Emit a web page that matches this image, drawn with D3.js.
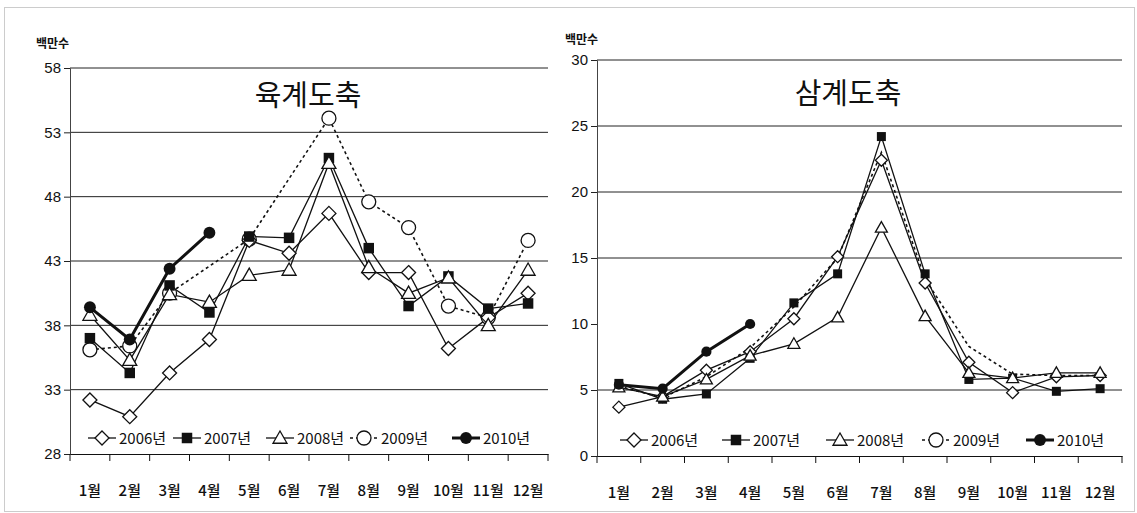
<!DOCTYPE html>
<html>
<head>
<meta charset="utf-8">
<script src="https://cdn.jsdelivr.net/npm/d3@7"></script>
<style>
  body { margin: 0; background: #fff; }
  text { fill: #111; }
</style>
</head>
<body>
<div id="chart"></div>
<script>
var svgWidth = 1137;
var svgHeight = 513;

// categories and series
var months = ["1월", "2월", "3월", "4월", "5월", "6월", "7월", "8월", "9월", "10월", "11월", "12월"];
var years = ["2006년", "2007년", "2008년", "2009년", "2010년"];

// 육계도축 (millions)
var broiler2006 = [32.2, 30.9, 34.3, 36.9, 44.6, 43.6, 46.7, 42.1, 42.1, 36.2, 38.6, 40.5];
var broiler2007 = [37.0, 34.3, 41.1, 39.0, 44.9, 44.8, 51.0, 44.0, 39.5, 41.8, 39.3, 39.7];
var broiler2008 = [38.8, 35.3, 40.4, 39.8, 41.9, 42.3, 50.6, 42.5, 40.5, 41.7, 38.0, 42.3];
var broiler2009 = [36.1, 36.4, 40.5, null, 44.7, null, 54.1, 47.6, 45.6, 39.5, 38.6, 44.6];
var broiler2010 = [39.4, 36.9, 42.4, 45.2, null, null, null, null, null, null, null, null];

// 삼계도축 (millions)
var samgye2006 = [3.7, 4.5, 6.5, 7.9, 10.4, 15.1, 22.4, 13.1, 7.1, 4.8, 6.0, 6.1];
var samgye2007 = [5.5, 4.3, 4.7, 7.4, 11.6, 13.8, 24.2, 13.8, 5.8, 5.9, 4.9, 5.1];
var samgye2008 = [5.2, 4.5, 5.8, 7.6, 8.5, 10.5, 17.3, 10.6, 6.3, 5.9, 6.3, 6.3];
var samgye2009 = [5.3, 4.4, 6.0, 8.2, 11.3, 15.0, 23.0, 13.4, 8.3, 6.2, 6.1, 6.1];
var samgye2010 = [5.4, 5.1, 7.9, 10.0, null, null, null, null, null, null, null, null];

// axis ticks
var broilerTicks = [28, 33, 38, 43, 48, 53, 58];
var broilerGrid = [33, 38, 43, 48, 53, 58];
var samgyeTicks = [0, 5, 10, 15, 20, 25, 30];
var samgyeGrid = [5, 15, 20, 25, 30];

var svg = d3.select("#chart")
    .append("svg")
    .attr("width", svgWidth)
    .attr("height", svgHeight);

// scanned page frame
svg.append("rect")
    .attr("x", 4.5).attr("y", 7.5)
    .attr("width", 1130).attr("height", 504)
    .attr("fill", "none")
    .attr("stroke", "#999")
    .attr("stroke-dasharray", "1,1");

var styles = [
    { shape: "diamond", width: 1.3, dash: null },
    { shape: "square", width: 1.3, dash: null },
    { shape: "triangle", width: 1.3, dash: null },
    { shape: "circle", width: 1.6, dash: "3,3" },
    { shape: "dot", width: 3, dash: null }
];

function drawMarker(g, shape, x, y, s) {
    if (shape === "diamond") {
        g.append("path")
            .attr("d", `M${x},${y - s}L${x + s},${y}L${x},${y + s}L${x - s},${y}Z`)
            .attr("fill", "#fff").attr("stroke", "#111").attr("stroke-width", 1.3);
    } else if (shape === "square") {
        var h = s * 0.75;
        g.append("rect")
            .attr("x", x - h).attr("y", y - h).attr("width", h * 2).attr("height", h * 2)
            .attr("fill", "#111");
    } else if (shape === "triangle") {
        g.append("path")
            .attr("d", `M${x},${y - s}L${x + s},${y + s * 0.75}L${x - s},${y + s * 0.75}Z`)
            .attr("fill", "#fff").attr("stroke", "#111").attr("stroke-width", 1.3);
    } else if (shape === "circle") {
        g.append("circle").attr("cx", x).attr("cy", y).attr("r", s)
            .attr("fill", "#fff").attr("stroke", "#111").attr("stroke-width", 1.3);
    } else {
        g.append("circle").attr("cx", x).attr("cy", y).attr("r", s * 0.85)
            .attr("fill", "#111");
    }
}

function drawChart(cfg) {
    var g = svg.append("g");

    var x = d3.scaleBand()
        .domain(months)
        .range([cfg.left, cfg.right]);

    var y = d3.scaleLinear()
        .domain(cfg.domain)
        .range([cfg.bottom, cfg.top]);

    var cx = d => x(d) + x.bandwidth() / 2;

    // gridlines
    g.selectAll(null)
        .data(cfg.grid)
        .enter()
        .append("line")
        .attr("x1", cfg.left).attr("x2", cfg.right)
        .attr("y1", d => y(d)).attr("y2", d => y(d))
        .attr("stroke", "#222")
        .attr("stroke-width", 1);

    // y axis
    var leftAxis = d3.axisLeft(y)
        .tickValues(cfg.ticks)
        .tickSize(6)
        .tickPadding(3);
    var yAxis = g.append("g")
        .attr("transform", `translate(${cfg.left}, 0)`)
        .call(leftAxis);
    yAxis.select(".domain").attr("stroke", "#444");
    yAxis.selectAll(".tick line").attr("stroke", "#222");
    yAxis.selectAll("text")
        .attr("font-family", "'Liberation Sans', Arial, sans-serif")
        .attr("font-size", "15px")
        .attr("fill", "#111");

    // x axis: labels centred, ticks on category boundaries
    var bottomAxis = d3.axisBottom(x).tickSize(0).tickPadding(31);
    var xAxis = g.append("g")
        .attr("transform", `translate(0, ${cfg.bottom})`)
        .call(bottomAxis);
    xAxis.select(".domain").attr("stroke", "#111").attr("stroke-width", 1.2);
    xAxis.selectAll("text")
        .attr("font-family", "'Noto Sans CJK KR', sans-serif")
        .attr("font-size", "15px")
        .attr("font-weight", "500")
        .attr("fill", "#111");

    g.selectAll(null)
        .data(months.map(m => x(m)).concat([cfg.right]))
        .enter()
        .append("line")
        .attr("x1", d => d).attr("x2", d => d)
        .attr("y1", cfg.bottom).attr("y2", cfg.bottom + 7)
        .attr("stroke", "#111");

    // unit label and title
    g.append("text")
        .attr("x", cfg.unitX).attr("y", cfg.unitY)
        .attr("font-family", "'Noto Sans CJK KR', sans-serif")
        .attr("font-size", "12px")
        .attr("font-weight", "bold")
        .text("백만수");

    g.append("text")
        .attr("x", cfg.titleX).attr("y", cfg.titleY)
        .attr("text-anchor", "middle")
        .attr("font-family", "'Noto Sans CJK KR', sans-serif")
        .attr("font-size", "29px")
        .text(cfg.title);

    // series lines
    var line = d3.line()
        .x(d => cx(d.m))
        .y(d => y(d.v));

    cfg.order.forEach(function (i) {
        var pts = months.map((m, j) => ({ m: m, v: cfg.series[i][j] }))
            .filter(d => d.v !== null);
        g.append("path")
            .datum(pts)
            .attr("d", line)
            .attr("fill", "none")
            .attr("stroke", "#111")
            .attr("stroke-width", styles[i].width)
            .attr("stroke-dasharray", styles[i].dash);
    });

    cfg.order.forEach(function (i) {
        if (cfg.hideMarkers.indexOf(i) >= 0) return;
        cfg.series[i].forEach(function (v, j) {
            if (v === null) return;
            drawMarker(g, styles[i].shape, cx(months[j]), y(v), cfg.markerSize);
        });
    });

    // legend
    var lg = g.append("g").attr("transform", `translate(0, ${cfg.legendY})`);
    years.forEach(function (yr, i) {
        var x0 = cfg.legendX[i];
        lg.append("line")
            .attr("x1", x0).attr("x2", x0 + 28)
            .attr("y1", 0).attr("y2", 0)
            .attr("stroke", "#111")
            .attr("stroke-width", styles[i].width)
            .attr("stroke-dasharray", styles[i].dash);
        drawMarker(lg, styles[i].shape, x0 + 14, 0, 7);
        lg.append("text")
            .attr("x", x0 + 31).attr("y", 6)
            .attr("font-family", "'Noto Sans CJK KR', sans-serif")
            .attr("font-size", "15px")
            .text(yr);
    });
}

drawChart({
    title: "육계도축",
    left: 70, right: 548, top: 68, bottom: 454,
    domain: [28, 58],
    ticks: broilerTicks, grid: broilerGrid,
    series: [broiler2006, broiler2007, broiler2008, broiler2009, broiler2010],
    order: [3, 0, 1, 2, 4],
    hideMarkers: [],
    markerSize: 7,
    unitX: 36, unitY: 48,
    titleX: 308, titleY: 106,
    legendY: 438,
    legendX: [88, 173, 266, 350, 452]
});

drawChart({
    title: "삼계도축",
    left: 597, right: 1122, top: 60, bottom: 456,
    domain: [0, 30],
    ticks: samgyeTicks, grid: samgyeGrid,
    series: [samgye2006, samgye2007, samgye2008, samgye2009, samgye2010],
    order: [3, 0, 1, 2, 4],
    hideMarkers: [3],
    markerSize: 6,
    unitX: 565, unitY: 44,
    titleX: 848, titleY: 104,
    legendY: 440,
    legendX: [620, 722, 826, 922, 1026]
});
</script>
</body>
</html>
